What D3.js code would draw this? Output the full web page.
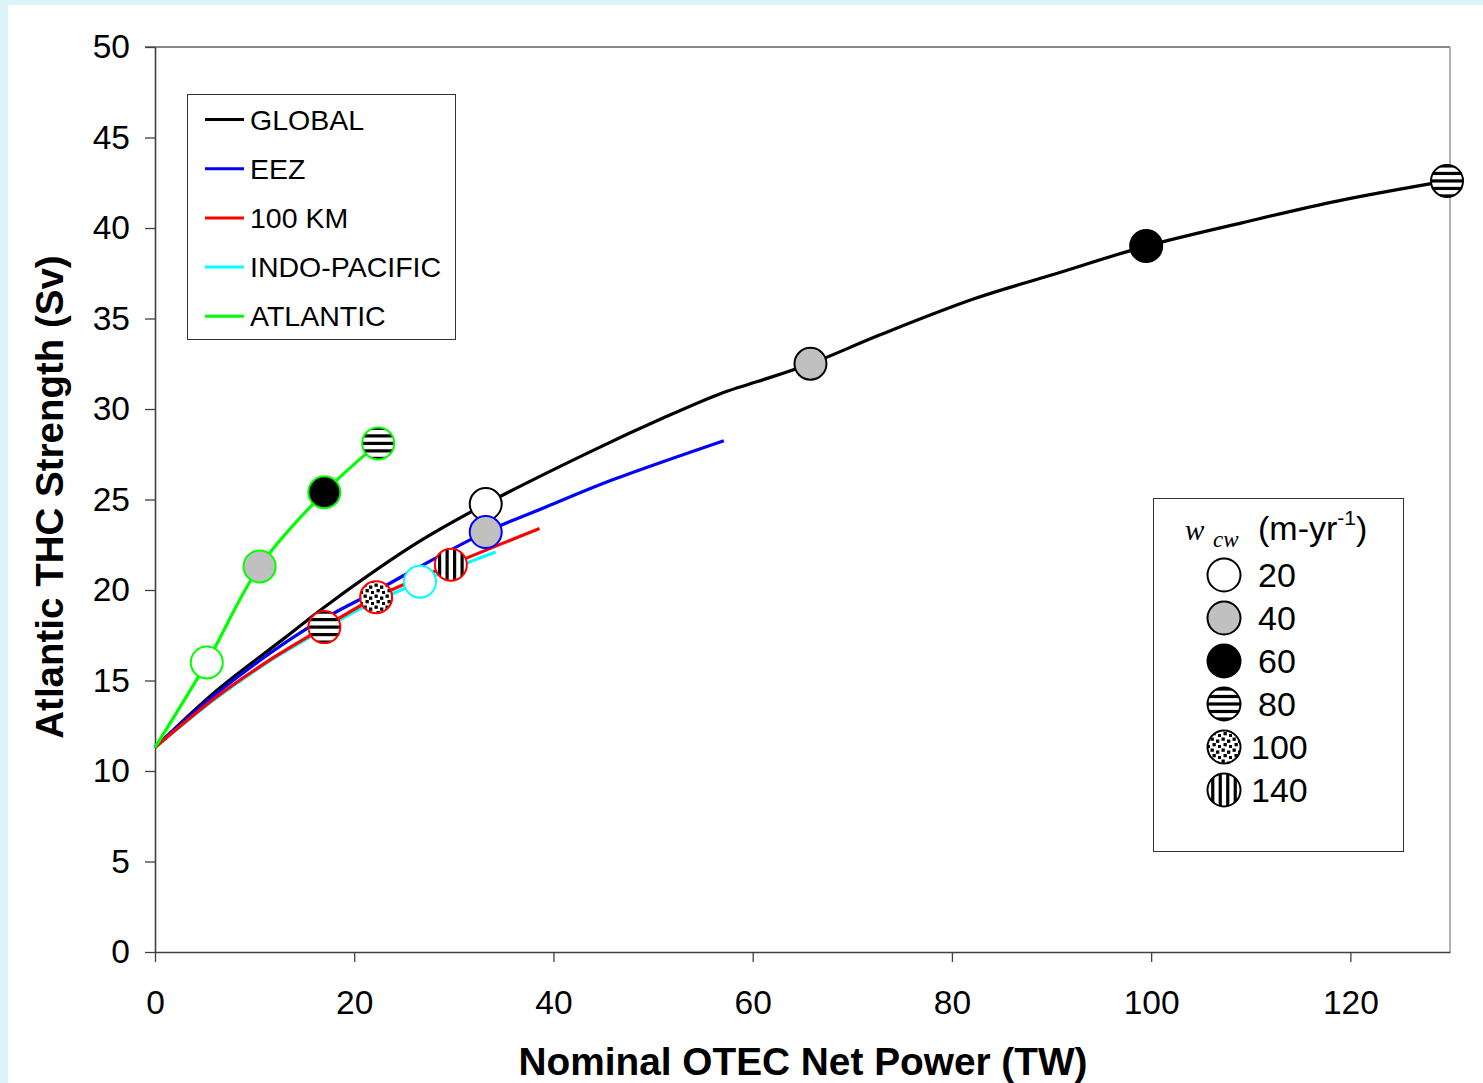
<!DOCTYPE html>
<html>
<head>
<meta charset="utf-8">
<script src="https://cdn.jsdelivr.net/npm/d3@7"></script>
<style>
  body { margin: 0; background: #fff; }
  svg { display: block; font-family: "Liberation Sans", Arial, sans-serif; }
</style>
</head>
<body>
<svg id="chart" width="1483" height="1083"></svg>
<script>
// curves: [power TW, THC Sv]
const globalLine = [[0, 11.3], [6.2, 14.45], [12.9, 17.3], [17.6, 19.3], [26.3, 22.6], [33.2, 24.75],
  [44.3, 27.8], [51.0, 29.5], [57.0, 30.9], [60.4, 31.5], [65.8, 32.5], [72.8, 34.1], [82.3, 36.1],
  [90.0, 37.4], [99.5, 39.0], [109.2, 40.3], [118.8, 41.5], [129.7, 42.6]];
const eezLine = [[0, 11.3], [6.2, 14.3], [15.2, 17.85], [22.2, 19.95], [26.3, 21.2], [33.2, 23.2], [39.3, 24.6], [46.0, 26.1], [57.1, 28.25]];
const km100Line = [[0, 11.3], [6.2, 14.1], [12.0, 16.3], [17.0, 17.95], [22.2, 19.6], [29.7, 21.4], [38.6, 23.4]];
const indoLine = [[0, 11.3], [6.2, 14.05], [12.0, 16.25], [17.0, 17.85], [20.4, 18.9], [26.6, 20.46], [34.2, 22.1]];
const atlanticLine = [[0, 11.3], [5.2, 16.0], [10.5, 21.3], [17.0, 25.4], [22.4, 28.1]];

// markers: [power, THC, w_cw]
const globalMarks = [[33.2, 24.75, 20], [65.8, 32.5, 40], [99.5, 39.0, 60], [129.7, 42.6, 80]];
const eezMarks = [[33.2, 23.2, 40]];
const km100Marks = [[17.0, 17.95, 80], [22.2, 19.6, 100], [29.7, 21.4, 140]];
const indoMarks = [[26.6, 20.46, 20]];
const atlanticMarks = [[5.2, 16.0, 20], [10.5, 21.3, 40], [17.0, 25.4, 60], [22.4, 28.1, 80]];

const seriesNames = ['GLOBAL', 'EEZ', '100 KM', 'INDO-PACIFIC', 'ATLANTIC'];
const seriesColors = ['#000000', '#0000ff', '#ff0000', '#00ffff', '#00ff00'];
const wcwLevels = [20, 40, 60, 80, 100, 140];
const xTicks = [0, 20, 40, 60, 80, 100, 120];
const yTicks = [0, 5, 10, 15, 20, 25, 30, 35, 40, 45, 50];

const svg = d3.select('#chart');
const defs = svg.append('defs');

// light cyan page edge
svg.append('rect').attr('width', 1483).attr('height', 1083).attr('fill', '#dcf4f8');
svg.append('rect').attr('x', 8).attr('y', 5).attr('width', 1475).attr('height', 1078).attr('fill', '#fff');

const x = d3.scaleLinear().domain([0, 130]).range([155, 1450]);
const y = d3.scaleLinear().domain([0, 50]).range([952, 47]);

// dot pattern for w=100
const dots = defs.append('pattern').attr('id', 'dots').attr('patternUnits', 'userSpaceOnUse')
  .attr('width', 11).attr('height', 11);
dots.append('rect').attr('width', 11).attr('height', 11).attr('fill', '#fff');
[[0.5, 0.5], [6, 2.5], [2.5, 6], [8, 8]].forEach(p => {
  dots.append('rect').attr('x', p[0]).attr('y', p[1]).attr('width', 3.3).attr('height', 3.3).attr('fill', '#000');
});

// frame (top/right in gray)
svg.append('line').attr('x1', 145).attr('x2', 1450).attr('y1', 47).attr('y2', 47)
  .attr('stroke', '#888').attr('stroke-width', 2);
svg.append('line').attr('x1', 1450).attr('x2', 1450).attr('y1', 47).attr('y2', 952)
  .attr('stroke', '#999').attr('stroke-width', 1.5);

const yAxis = svg.append('g').attr('transform', 'translate(155,0)')
  .call(d3.axisLeft(y).tickValues(yTicks).tickSize(10).tickSizeOuter(0).tickPadding(15));
const xAxis = svg.append('g').attr('transform', 'translate(0,952)')
  .call(d3.axisBottom(x).tickValues(xTicks).tickSize(10).tickSizeOuter(0).tickPadding(28));
[yAxis, xAxis].forEach(a => {
  a.select('.domain').attr('stroke', '#404040').attr('stroke-width', 1.6);
  a.selectAll('.tick line').attr('stroke', '#404040').attr('stroke-width', 1.3);
  a.selectAll('.tick text').attr('font-size', 33.5).attr('fill', '#000')
    .attr('font-family', '"Liberation Sans", Arial, sans-serif');
});

// axis titles
svg.append('text').attr('transform', 'translate(63,497) rotate(-90)')
  .attr('text-anchor', 'middle').attr('font-size', 38.5).attr('font-weight', 'bold')
  .text('Atlantic THC Strength (Sv)');
svg.append('text').attr('x', 803).attr('y', 1075)
  .attr('text-anchor', 'middle').attr('font-size', 38.8).attr('font-weight', 'bold')
  .text('Nominal OTEC Net Power (TW)');

// lines
const line = d3.line().x(d => x(d[0])).y(d => y(d[1])).curve(d3.curveCatmullRom.alpha(0.5));
const lineData = [globalLine, eezLine, indoLine, km100Line, atlanticLine];
const lineColors = ['#000000', '#0000ff', '#00ffff', '#ff0000', '#00ff00'];
lineData.forEach((pts, i) => {
  svg.append('path').attr('d', line(pts)).attr('fill', 'none')
    .attr('stroke', lineColors[i]).attr('stroke-width', 3.2);
});

let clipId = 0;
function drawMarker(cx, cy, w, stroke, r) {
  const g = svg.append('g');
  const base = w === 40 ? '#c0c0c0' : w === 60 ? '#000' : '#fff';
  g.append('circle').attr('cx', cx).attr('cy', cy).attr('r', r)
    .attr('fill', w === 100 ? 'url(#dots)' : base);
  if (w === 80 || w === 140) {
    const id = 'mclip' + (clipId++);
    defs.append('clipPath').attr('id', id).append('circle').attr('cx', cx).attr('cy', cy).attr('r', r);
    const sg = g.append('g').attr('clip-path', `url(#${id})`);
    const offs = w === 80 ? [-15, -7.5, 0, 7.5, 15] : [-11.25, -3.75, 3.75, 11.25];
    offs.forEach(o => {
      if (w === 80) {
        sg.append('rect').attr('x', cx - r).attr('y', cy + o - 1.6).attr('width', 2 * r).attr('height', 3.2).attr('fill', '#000');
      } else {
        sg.append('rect').attr('x', cx + o - 1.6).attr('y', cy - r).attr('width', 3.2).attr('height', 2 * r).attr('fill', '#000');
      }
    });
  }
  g.append('circle').attr('cx', cx).attr('cy', cy).attr('r', r)
    .attr('fill', 'none').attr('stroke', stroke).attr('stroke-width', 2);
}

const markData = [globalMarks, eezMarks, km100Marks, indoMarks, atlanticMarks];
markData.forEach((ms, i) => {
  ms.forEach(m => drawMarker(x(m[0]), y(m[1]), m[2], seriesColors[i], 16));
});

// series legend
svg.append('rect').attr('x', 187.5).attr('y', 94.5).attr('width', 268).attr('height', 245)
  .attr('fill', '#fff').attr('stroke', '#333').attr('stroke-width', 1);
seriesNames.forEach((name, i) => {
  const ly = 119.5 + i * 49.2;
  svg.append('line').attr('x1', 205).attr('x2', 244).attr('y1', ly).attr('y2', ly)
    .attr('stroke', seriesColors[i]).attr('stroke-width', 3);
  svg.append('text').attr('x', 250).attr('y', ly + 10).attr('font-size', 28.5).text(name);
});

// w_cw legend
svg.append('rect').attr('x', 1153.5).attr('y', 498.5).attr('width', 250).attr('height', 353)
  .attr('fill', '#fff').attr('stroke', '#333').attr('stroke-width', 1);
svg.append('text').attr('x', 1185).attr('y', 540).attr('font-size', 29)
  .attr('font-family', '"Liberation Serif", "Times New Roman", serif').attr('font-style', 'italic').text('w');
svg.append('text').attr('x', 1213).attr('y', 547).attr('font-size', 23)
  .attr('font-family', '"Liberation Serif", "Times New Roman", serif').attr('font-style', 'italic').text('cw');
const unit = svg.append('text').attr('x', 1258).attr('y', 540).attr('font-size', 34);
unit.append('tspan').text('(m-yr');
unit.append('tspan').attr('font-size', 21).attr('dy', -15).text('-1');
unit.append('tspan').attr('dy', 15).text(')');

wcwLevels.forEach((w, i) => {
  const cy = 575 + i * 43;
  drawMarker(1224, cy, w, '#000', 16.5);
  svg.append('text').attr('x', w >= 100 ? 1251 : 1258).attr('y', cy + 12)
    .attr('font-size', 34).text(w);
});
</script>
</body>
</html>
